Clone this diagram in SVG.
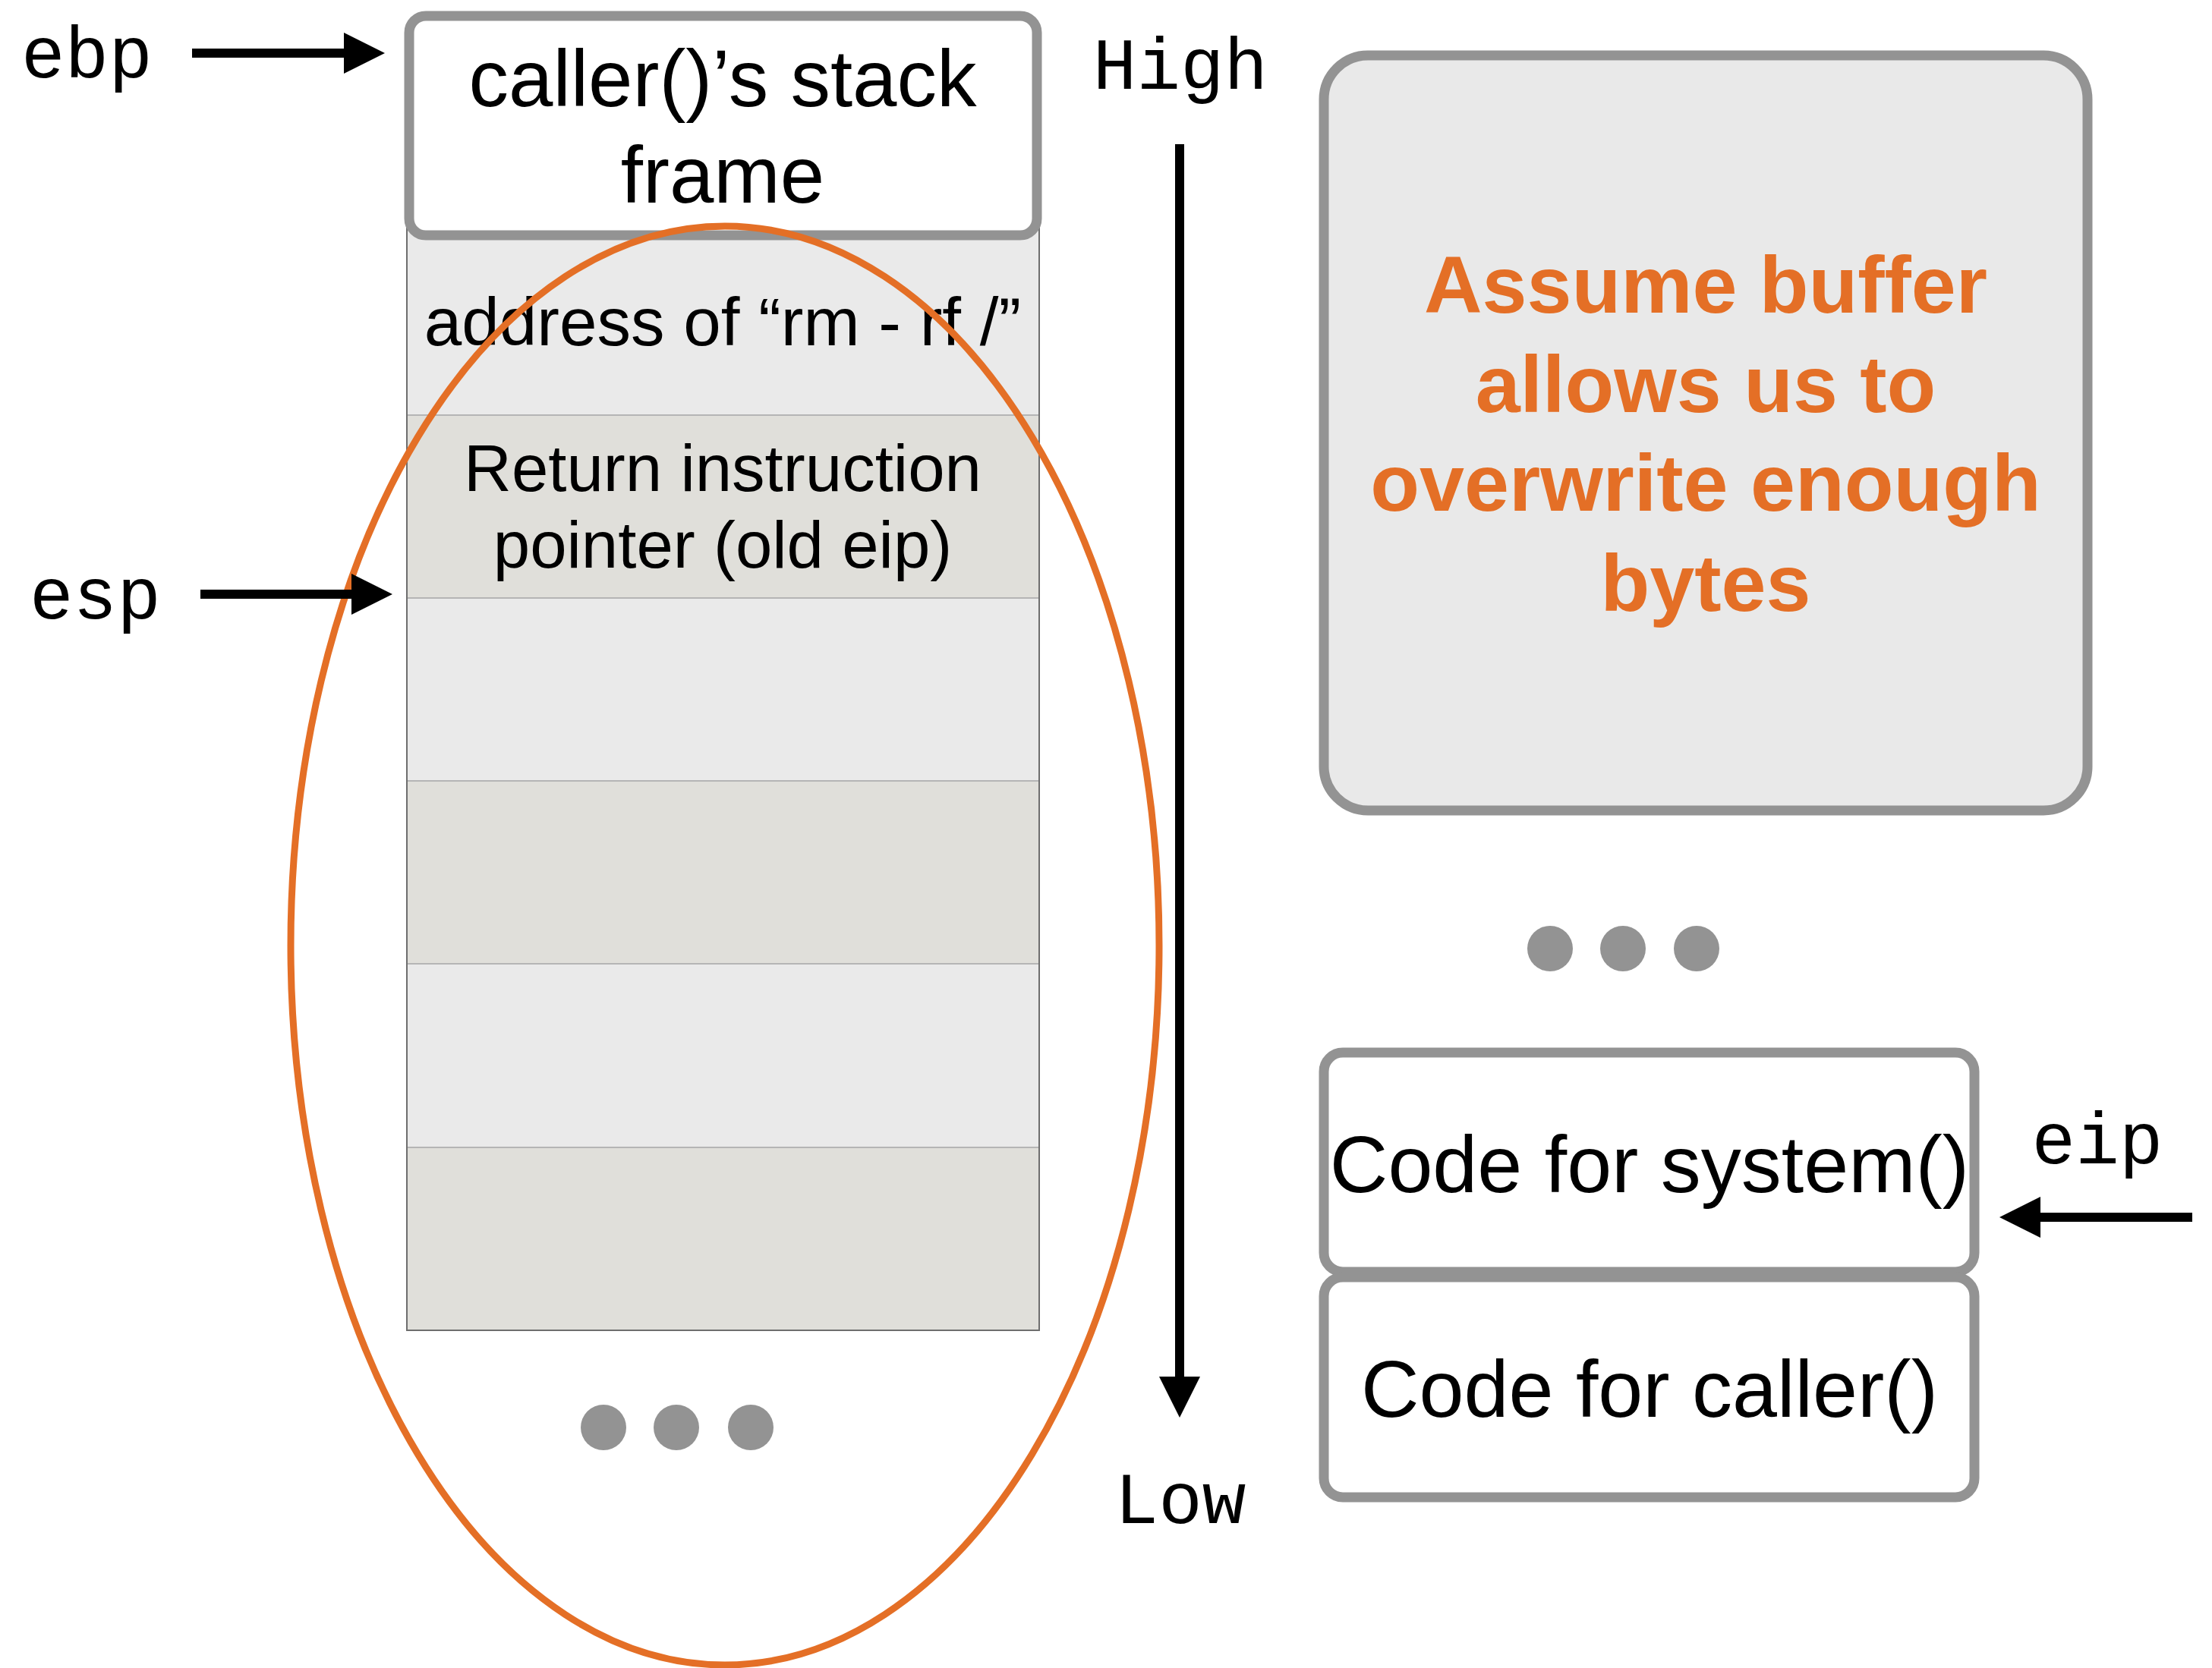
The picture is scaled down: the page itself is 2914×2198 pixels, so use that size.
<svg xmlns="http://www.w3.org/2000/svg" width="2914" height="2198" viewBox="0 0 2914 2198">
<style>
.mono{font-family:"Liberation Mono","DejaVu Sans Mono",monospace;font-size:96px;fill:#000}
.sans{font-family:"Liberation Sans",Arial,sans-serif;fill:#000;text-anchor:middle}
.cell{font-size:87px}
.big{font-size:106px}
.box{fill:#fff;stroke:#939393;stroke-width:13}
.lt{fill:#EAEAEA}
.dk{fill:#E0DFDA}
.sep{stroke:#B5B5B5;stroke-width:2}
.dot{fill:#939393}
.conn{stroke:#000;stroke-width:12;fill:none;marker-end:url(#ah)}
.orange{font-family:"Liberation Sans",Arial,sans-serif;font-weight:bold;font-size:106px;fill:#E46F26;text-anchor:middle}
</style>
<defs>
<marker id="ah" markerUnits="userSpaceOnUse" markerWidth="56" markerHeight="54" refX="0" refY="27" orient="auto">
<path d="M0,0 L54,27 L0,54 Z" fill="#000"/>
</marker>
</defs>
<rect width="2914" height="2198" fill="#fff"/>

<g id="stack">
<rect class="lt" x="536" y="300" width="833" height="247"/>
<rect class="dk" x="536" y="547" width="833" height="241"/>
<rect class="lt" x="536" y="788" width="833" height="241"/>
<rect class="dk" x="536" y="1029" width="833" height="241"/>
<rect class="lt" x="536" y="1270" width="833" height="242"/>
<rect class="dk" x="536" y="1512" width="833" height="241"/>
<line class="sep" x1="537" y1="547" x2="1368" y2="547"/>
<line class="sep" x1="537" y1="788" x2="1368" y2="788"/>
<line class="sep" x1="537" y1="1029" x2="1368" y2="1029"/>
<line class="sep" x1="537" y1="1270" x2="1368" y2="1270"/>
<line class="sep" x1="537" y1="1512" x2="1368" y2="1512"/>
<rect x="536" y="300" width="833" height="1453" fill="none" stroke="#6E6E6E" stroke-width="2"/>
</g>
<g id="addr-row">
<text class="sans" font-size="89" x="952" y="455">address of “rm - rf /”</text>
</g>
<g id="ret-row">
<text class="sans cell" x="952" y="647">Return instruction</text>
<text class="sans cell" x="952" y="748">pointer (old eip)</text>
</g>
<g id="caller-frame">
<rect class="box" x="539" y="21" width="827" height="289" rx="22"/>
<text class="sans" font-size="105" x="952" y="140">caller()’s stack</text>
<text class="sans" font-size="105" x="952" y="267">frame</text>
</g>
<g id="stack-dots">
<circle class="dot" cx="795" cy="1881" r="30"/>
<circle class="dot" cx="891" cy="1881" r="30"/>
<circle class="dot" cx="989" cy="1881" r="30"/>
</g>
<g id="overflow-ellipse">
<ellipse cx="955" cy="1246" rx="572" ry="948" fill="none" stroke="#E46F26" stroke-width="9"/>
</g>

<g id="note">
<rect x="1744" y="73" width="1006" height="995" rx="58" fill="#E9E9E9" stroke="#939393" stroke-width="13"/>
<text class="orange" x="2247" y="412">Assume buffer</text>
<text class="orange" x="2247" y="543">allows us to</text>
<text class="orange" x="2247" y="673">overwrite enough</text>
<text class="orange" x="2247" y="805">bytes</text>
</g>
<g id="code-dots">
<circle class="dot" cx="2042" cy="1250" r="30"/>
<circle class="dot" cx="2138" cy="1250" r="30"/>
<circle class="dot" cx="2235" cy="1250" r="30"/>
</g>
<g id="code-system">
<rect class="box" x="1744" y="1387" width="857" height="289" rx="25"/>
<text class="sans big" x="2173" y="1571">Code for system()</text>
</g>
<g id="code-caller">
<rect class="box" x="1744" y="1683" width="857" height="290" rx="25"/>
<text class="sans big" x="2173" y="1867">Code for caller()</text>
</g>

<g id="labels">
<text class="mono" x="28" y="102">ebp</text>
<text class="mono" x="39" y="815">esp</text>
<text class="mono" x="1555" y="117" text-anchor="middle">High</text>
<text class="mono" x="1555" y="2007" text-anchor="middle">Low</text>
<text class="mono" x="2763" y="1533" text-anchor="middle">eip</text>
</g>

<g id="connectors">
<line class="conn" x1="253" y1="70" x2="453" y2="70"/>
<line class="conn" x1="264" y1="783" x2="463" y2="783"/>
<line class="conn" x1="1554" y1="190" x2="1554" y2="1814"/>
<line class="conn" x1="2888" y1="1604" x2="2688" y2="1604"/>
</g>
</svg>
